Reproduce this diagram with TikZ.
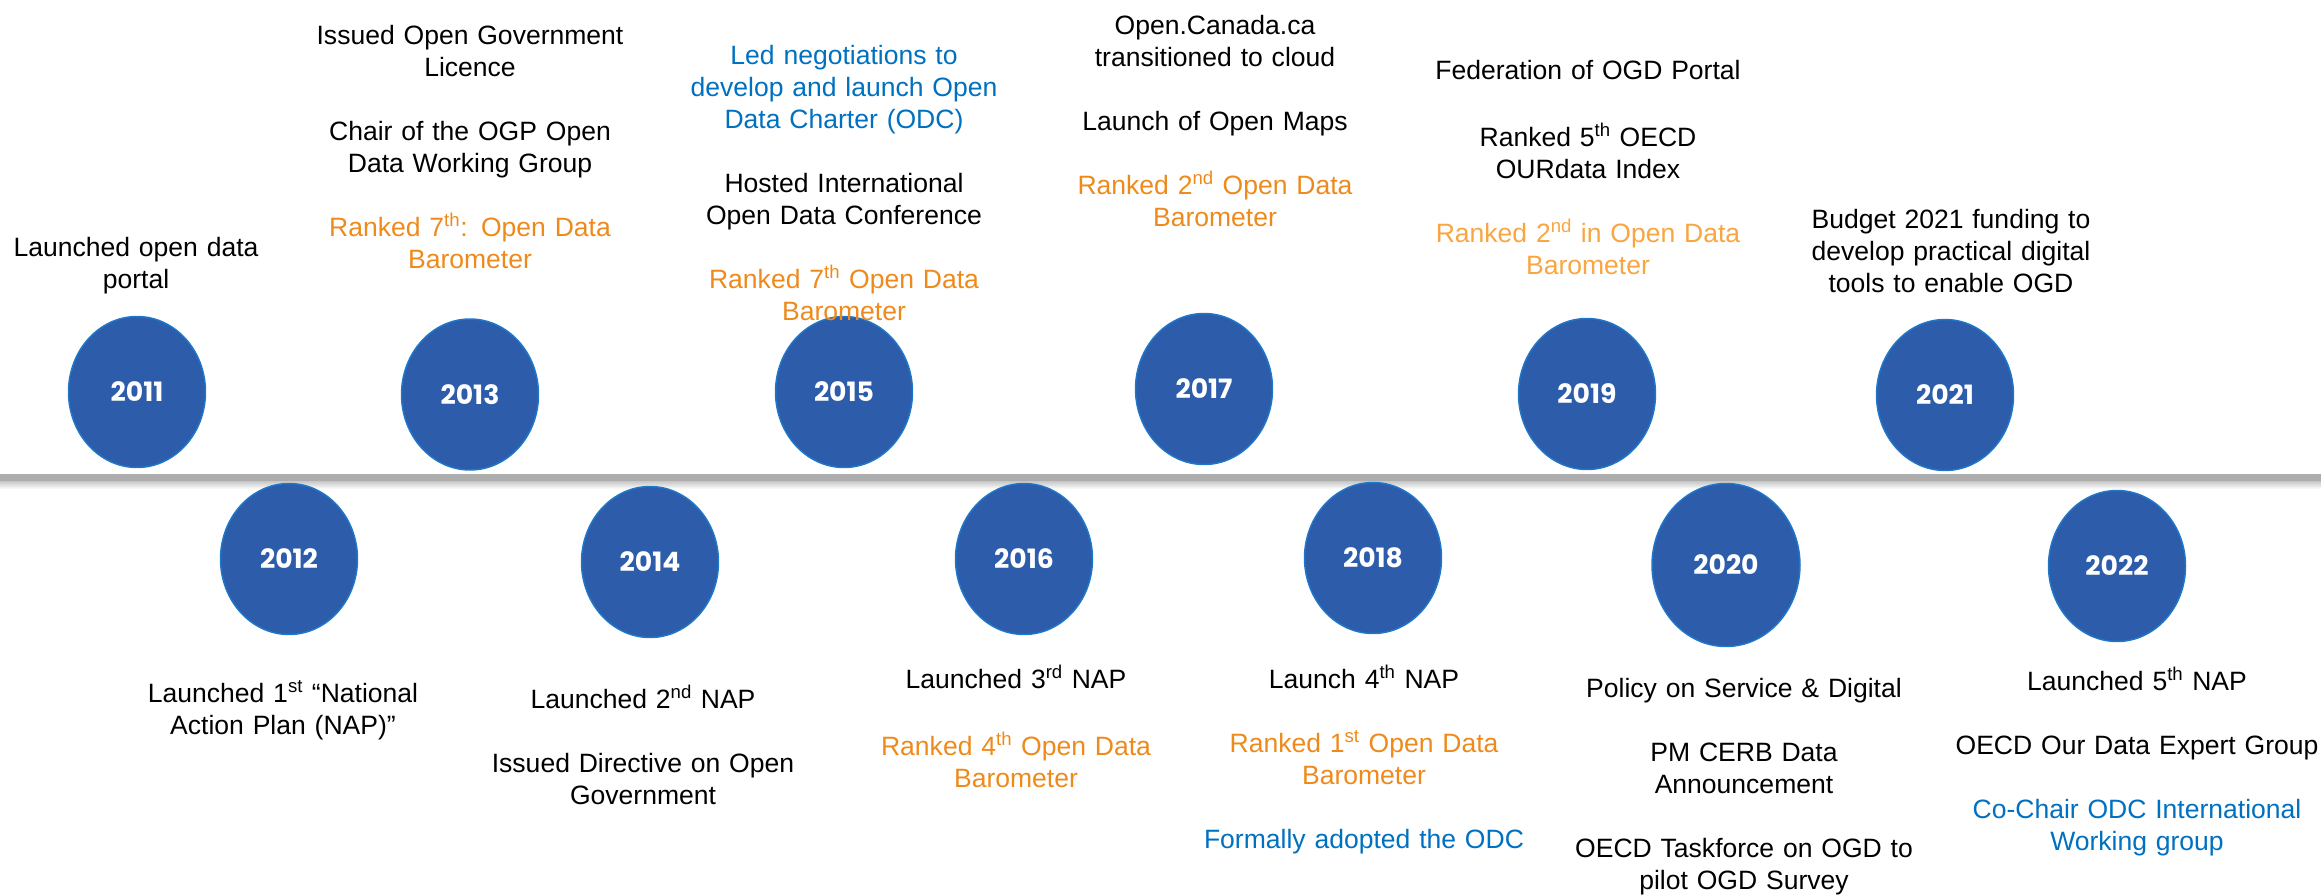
\documentclass[tikz,border=0pt]{standalone}
\usepackage{fontspec}
\setmainfont{Liberation Sans}
\newfontfamily\yearfont{Poppins}
\usetikzlibrary{positioning,shapes.geometric}
\definecolor{circfill}{HTML}{2D5DAA}
\definecolor{circline}{HTML}{1F77C9}
\definecolor{odcblue}{HTML}{0070C0}
\definecolor{rankorange}{HTML}{EE8A1C}
\definecolor{rankpale}{HTML}{F9A541}
\definecolor{linegray}{HTML}{ADADAD}
\tikzset{
  yearnode/.style={
    ellipse,
    fill=circfill,
    draw=circline, line width=1.1pt,
    minimum width=102.75pt,
    minimum height=113.25pt,
    inner sep=0pt,
    text=white,
    font=\yearfont\bfseries\fontsize{20}{24}\selectfont},
  bigyear/.style={minimum width=111pt, minimum height=122.25pt},
  eventtext/.style={
    anchor=north,
    inner sep=0pt,
    text width=300pt,
    align=center,
    font=\fontsize{19.9}{24}\selectfont,
    execute at begin node=\strut},
  timeline/.style={draw=linegray, line width=5.25pt},
  shadowband/.style={top color=linegray!70, bottom color=white, draw=none},
}
\begin{document}
\begin{tikzpicture}
  [x=0.75pt, y=-0.75pt]
  \useasboundingbox (0,0) rectangle (2321,895);
  % the time axis with its soft shadow
  \coordinate (tlstart) at (0,477.5);
  \coordinate (tlend) at (2321,477.5);
  \fill[shadowband] (0,481) rectangle (2321,489);
  \draw[timeline] (tlstart) -- (tlend);
  %% odd years above the axis
  \node (y2011) [yearnode] at (137,392) {2011};
  \node (y2013) [yearnode] at (470,394.5) {2013};
  \node (y2015) [yearnode] at (844,392) {2015};
  \node (y2017) [yearnode] at (1204,389) {2017};
  \node (y2019) [yearnode] at (1587,394) {2019};
  \node (y2021) [yearnode] at (1945,395) {2021};
  %% even years below the axis
  \node (y2012) [yearnode] at (289,559) {2012};
  \node (y2014) [yearnode] at (650,562) {2014};
  \node (y2016) [yearnode] at (1024,559) {2016};
  \node (y2018) [yearnode] at (1373,558) {2018};
  \node (y2020) [yearnode, bigyear] at (1726,565) {2020};
  \node (y2022) [yearnode] at (2117,566) {2022};
  % events of the odd years
  \node (t2011) [eventtext] at (136,234) {Launched open data\\portal};
  \node (t2013) [eventtext] at (470,22) {Issued Open Government\\Licence\\[24pt]
    Chair of the OGP Open\\Data Working Group\\[24pt]
    \textcolor{rankorange}{Ranked 7\textsuperscript{th}: Open Data\\Barometer}};
  \node (t2015) [eventtext] at (844,42) {\textcolor{odcblue}{Led negotiations to\\
    develop and launch Open\\Data Charter (ODC)}\\[24pt]
    Hosted International\\Open Data Conference\\[24pt]
    \textcolor{rankorange}{Ranked 7\textsuperscript{th} Open Data\\Barometer}};
  \node (t2017) [eventtext] at (1215,11.5) {Open.Canada.ca\\transitioned to cloud\\[24pt]
    Launch of Open Maps\\[24pt]
    \textcolor{rankorange}{Ranked 2\textsuperscript{nd} Open Data\\Barometer}};
  \node (t2019) [eventtext] at (1588,57) {Federation of OGD Portal\\[24pt]
    Ranked 5\textsuperscript{th} OECD\\OURdata Index\\[24pt]
    \textcolor{rankpale}{Ranked 2\textsuperscript{nd} in Open Data\\Barometer}};
  \node (t2021) [eventtext] at (1951,206) {Budget 2021 funding to\\
    develop practical digital\\tools to enable OGD};
  % events of the even years
  \node (t2012) [eventtext] at (283,680) {Launched 1\textsuperscript{st} “National\\
    Action Plan (NAP)”};
  \node (t2014) [eventtext] at (643,685) {Launched 2\textsuperscript{nd} NAP\\[24pt]
    Issued Directive on Open\\Government};
  \node (t2016) [eventtext] at (1016,665) {Launched 3\textsuperscript{rd} NAP\\[24pt]
    \textcolor{rankorange}{Ranked 4\textsuperscript{th} Open Data\\Barometer}};
  \node (t2018) [eventtext] at (1364,665) {Launch 4\textsuperscript{th} NAP\\[24pt]
    \textcolor{rankorange}{Ranked 1\textsuperscript{st} Open Data\\Barometer}\\[24pt]
    \textcolor{odcblue}{Formally adopted the ODC}};
  \node (t2020) [eventtext] at (1744,675) {Policy on Service \& Digital\\[24pt]
    PM CERB Data\\Announcement\\[24pt]
    OECD Taskforce on OGD to\\pilot OGD Survey};
  \node (t2022) [eventtext] at (2137,667) {Launched 5\textsuperscript{th} NAP\\[24pt]
    OECD Our Data Expert Group\\[24pt]
    \textcolor{odcblue}{Co-Chair ODC International\\Working group}};
\end{tikzpicture}
\end{document}
